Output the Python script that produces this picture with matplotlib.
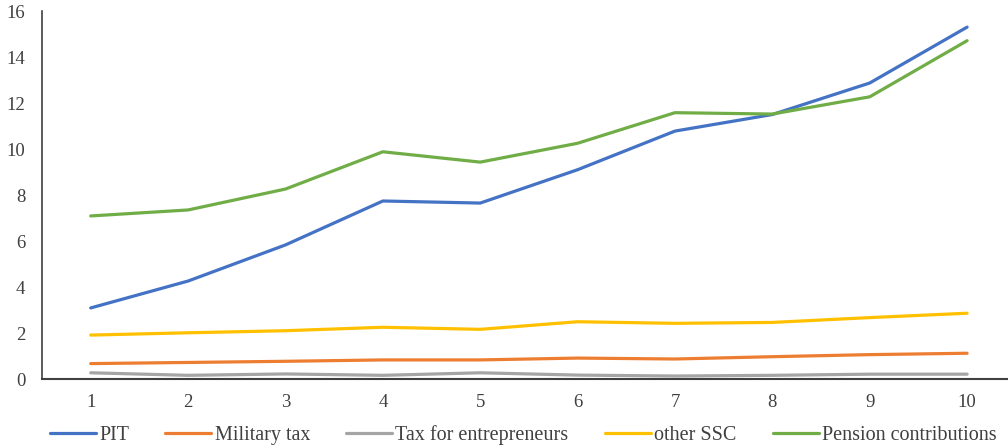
import matplotlib
matplotlib.use("Agg")
import matplotlib.pyplot as plt

deciles = [1, 2, 3, 4, 5, 6, 7, 8, 9, 10]
pit = [3.09, 4.26, 5.83, 7.74, 7.65, 9.1, 10.78, 11.5, 12.87, 15.3]
military_tax = [0.67, 0.72, 0.77, 0.83, 0.83, 0.91, 0.87, 0.97, 1.06, 1.12]
entrepreneurs_tax = [0.27, 0.16, 0.22, 0.16, 0.27, 0.17, 0.13, 0.16, 0.21, 0.21]
other_ssc = [1.91, 2.01, 2.1, 2.25, 2.16, 2.49, 2.42, 2.46, 2.67, 2.86]
pension = [7.09, 7.35, 8.26, 9.88, 9.43, 10.25, 11.58, 11.52, 12.27, 14.71]

series = [
    ("PIT", pit, "#4472C4"),
    ("Military tax", military_tax, "#ED7D31"),
    ("Tax for entrepreneurs", entrepreneurs_tax, "#A5A5A5"),
    ("other SSC", other_ssc, "#FFC000"),
    ("Pension contributions", pension, "#70AD47"),
]

plt.rcParams["font.family"] = ["Liberation Serif", "DejaVu Serif"]
text_color = "#404040"

fig = plt.figure(figsize=(10.08, 4.48), dpi=100)
ax = fig.add_axes([0.0417, 0.154, 0.9583, 0.8214])

for label, vals, color in series:
    ax.plot(deciles, vals, color=color, lw=2.3, label=label, solid_capstyle="round")

ax.set_xlim(0.5, 10.42)
ax.set_ylim(0, 16)
ax.set_xticks(deciles)
ax.set_yticks(range(0, 17, 2))
ax.tick_params(axis="both", length=0, labelsize=13.5, colors=text_color)
ax.tick_params(axis="y", pad=12)
ax.tick_params(axis="x", pad=11)

for side in ("top", "right"):
    ax.spines[side].set_visible(False)
ax.spines["left"].set_color("#404040")
ax.spines["left"].set_linewidth(1.2)
ax.spines["bottom"].set_color("#404040")
ax.spines["bottom"].set_linewidth(1.5)

fig.legend(loc="center", bbox_to_anchor=(0.519, 0.029), ncol=5, frameon=False,
           fontsize=14.5, handlelength=2.29, handletextpad=0.15, columnspacing=1.8,
           labelcolor=text_color)

fig.savefig("out.png", dpi=100)
